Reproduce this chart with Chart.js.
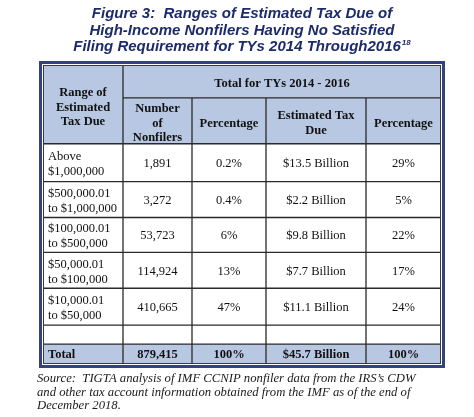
<!DOCTYPE html>
<html><head><meta charset="utf-8">
<script src="https://cdn.jsdelivr.net/npm/chart.js@4.4.1/dist/chart.umd.min.js"></script>
<style>html,body{margin:0;padding:0;background:#fff;}#c{display:block;}</style>
</head><body>
<canvas id="c" width="474" height="417"></canvas>
<script>
// ---- data ----
const titleLines = ["Figure 3:  Ranges of Estimated Tax Due of", "High-Income Nonfilers Having No Satisfied", "Filing Requirement for TYs 2014 Through2016"];
const titleNote = "18";
const groupHeader = "Total for TYs 2014 - 2016";
const rangeHeader = ["Range of", "Estimated", "Tax Due"];
const columnHeaders = [["Number", "of", "Nonfilers"], ["Percentage"], ["Estimated Tax", "Due"], ["Percentage"]];
const ranges = [["Above", "$1,000,000"], ["$500,000.01", "to $1,000,000"], ["$100,000.01", "to $500,000"], ["$50,000.01", "to $100,000"], ["$10,000.01", "to $50,000"]];
const nonfilers = [1891, 3272, 53723, 114924, 410665];
const nonfilerPct = [0.2, 0.4, 6, 13, 47];
const taxDueBillions = [13.5, 2.2, 9.8, 7.7, 11.1];
const taxDuePct = [29, 5, 22, 17, 24];
const totalLabel = "Total";
const totals = [879415, 100, 45.7, 100];
const sourceLines = ["Source:  TIGTA analysis of IMF CCNIP nonfiler data from the IRS\u2019s CDW", "and other tax account information obtained from the IMF as of the end of", "December 2018."];

// ---- layout (scale units) ----
const colWidths = [80, 69, 74, 100, 75];
const rowHeights = [33, 46, 38, 36, 35, 36, 37, 19, 20];
const cx = colWidths.reduce((a, w) => (a.push(a[a.length - 1] + w), a), [0]);
const ry = rowHeights.reduce((a, h) => (a.push(a[a.length - 1] + h), a), [0]);

const fmtInt = v => v.toLocaleString('en-US');
const fmtPct = v => v + '%';
const fmtBil = v => '$' + v.toFixed(1) + ' Billion';

const HEAD_BG = '#b9c8e2', GRID = '#2a2a2a', FRAME = '#33447a', TITLE = '#1d2b6b';
const SERIF = "'Liberation Serif', 'Times New Roman', serif";

const tablePlugin = {
  id: 'tablePlugin',
  afterDraw(chart) {
    const ctx = chart.ctx, xs = chart.scales.x, ys = chart.scales.y;
    const X = v => xs.getPixelForValue(v), Y = v => ys.getPixelForValue(v);
    ctx.save();
    // backgrounds
    ctx.fillStyle = '#fff';
    ctx.fillRect(X(0), Y(0), X(cx[5]) - X(0), Y(ry[9]) - Y(0));
    ctx.fillStyle = HEAD_BG;
    ctx.fillRect(X(0), Y(0), X(cx[5]) - X(0), Y(ry[2]) - Y(0));
    ctx.fillRect(X(0), Y(ry[8]), X(cx[5]) - X(0), Y(ry[9]) - Y(ry[8]));
    // grid
    ctx.strokeStyle = GRID; ctx.lineWidth = 1.3;
    ctx.beginPath();
    ctx.moveTo(X(cx[1]), Y(ry[1])); ctx.lineTo(X(cx[5]), Y(ry[1]));
    for (let r = 2; r <= 8; r++) { ctx.moveTo(X(0), Y(ry[r])); ctx.lineTo(X(cx[5]), Y(ry[r])); }
    ctx.moveTo(X(cx[1]), Y(0)); ctx.lineTo(X(cx[1]), Y(ry[9]));
    for (let c = 2; c <= 4; c++) { ctx.moveTo(X(cx[c]), Y(ry[1])); ctx.lineTo(X(cx[c]), Y(ry[9])); }
    ctx.stroke();
    // frame
    const L = X(0), T = Y(0), R = X(cx[5]), B = Y(ry[9]);
    ctx.strokeStyle = '#3a3a4a'; ctx.lineWidth = 1;
    ctx.strokeRect(L + 0.5, T + 0.5, R - L - 1, B - T - 1);
    ctx.strokeStyle = '#ffffff'; ctx.lineWidth = 1;
    ctx.strokeRect(L - 0.5, T - 0.5, R - L + 1, B - T + 1);
    ctx.strokeStyle = FRAME; ctx.lineWidth = 3;
    ctx.strokeRect(L - 2.5, T - 2.5, R - L + 5, B - T + 5);

    // text helpers
    ctx.fillStyle = '#111';
    ctx.textBaseline = 'middle';
    const block = (lines, x, yMid, align, bold, lh) => {
      ctx.font = (bold ? 'bold ' : '') + '12.5px ' + SERIF;
      ctx.textAlign = align;
      const n = lines.length;
      lines.forEach((t, i) => ctx.fillText(t, x, yMid + 1 + (i - (n - 1) / 2) * lh));
    };
    const midX = c => (X(cx[c]) + X(cx[c + 1])) / 2;
    const midY = (r0, r1) => (Y(ry[r0]) + Y(ry[r1])) / 2;
    // headers
    block(rangeHeader, midX(0), midY(0, 2) + 2, 'center', true, 14.5);
    block([groupHeader], (X(cx[1]) + X(cx[5])) / 2, midY(0, 1) + 1, 'center', true, 14.5);
    columnHeaders.forEach((h, i) => block(h, midX(i + 1), midY(1, 2) + 1.5, 'center', true, 14.8));
    // body
    ranges.forEach((rg, i) => {
      const r = i + 2, ym = midY(r, r + 1);
      block(rg, X(0) + 5, ym + 0.5, 'left', false, 15);
      block([fmtInt(nonfilers[i])], midX(1), ym, 'center', false, 15);
      block([fmtPct(nonfilerPct[i])], midX(2), ym, 'center', false, 15);
      block([fmtBil(taxDueBillions[i])], midX(3), ym, 'center', false, 15);
      block([fmtPct(taxDuePct[i])], midX(4), ym, 'center', false, 15);
    });
    // total
    const yt = midY(8, 9);
    block([totalLabel], X(0) + 5, yt, 'left', true, 14.5);
    block([fmtInt(totals[0])], midX(1), yt, 'center', true, 14.5);
    block([fmtPct(totals[1])], midX(2), yt, 'center', true, 14.5);
    block([fmtBil(totals[2])], midX(3), yt, 'center', true, 14.5);
    block([fmtPct(totals[3])], midX(4), yt, 'center', true, 14.5);

    // title
    const tc = (L + R) / 2;
    ctx.fillStyle = TITLE;
    ctx.textBaseline = 'alphabetic';
    ctx.font = "italic bold 15px 'Liberation Sans', Arial, sans-serif";
    ctx.textAlign = 'center';
    ctx.fillText(titleLines[0], tc, 18);
    ctx.fillText(titleLines[1], tc, 34.5);
    const w3 = ctx.measureText(titleLines[2]).width;
    ctx.font = "italic bold 8px 'Liberation Sans', Arial, sans-serif";
    const ws = ctx.measureText(titleNote).width;
    const x3 = tc - (w3 + ws + 1) / 2;
    ctx.textAlign = 'left';
    ctx.font = "italic bold 15px 'Liberation Sans', Arial, sans-serif";
    ctx.fillText(titleLines[2], x3, 51);
    ctx.font = "italic bold 8px 'Liberation Sans', Arial, sans-serif";
    ctx.fillText(titleNote, x3 + w3 + 1, 45);

    // source
    ctx.fillStyle = '#1a1a1a';
    ctx.font = 'italic 12.7px ' + SERIF;
    ctx.textAlign = 'left';
    sourceLines.forEach((s, i) => ctx.fillText(s, 37, 382 + i * 13.5));
    ctx.restore();
  }
};

new Chart(document.getElementById('c'), {
  type: 'scatter',
  data: { datasets: [] },
  options: {
    responsive: false,
    animation: false,
    layout: { padding: { left: 43, top: 65, right: 33, bottom: 53 } },
    scales: {
      x: { type: 'linear', display: false, min: 0, max: cx[cx.length - 1] },
      y: { type: 'linear', display: false, min: 0, max: ry[ry.length - 1], reverse: true }
    },
    plugins: { legend: { display: false }, tooltip: { enabled: false }, title: { display: false } }
  },
  plugins: [tablePlugin]
});
</script>
</body></html>
